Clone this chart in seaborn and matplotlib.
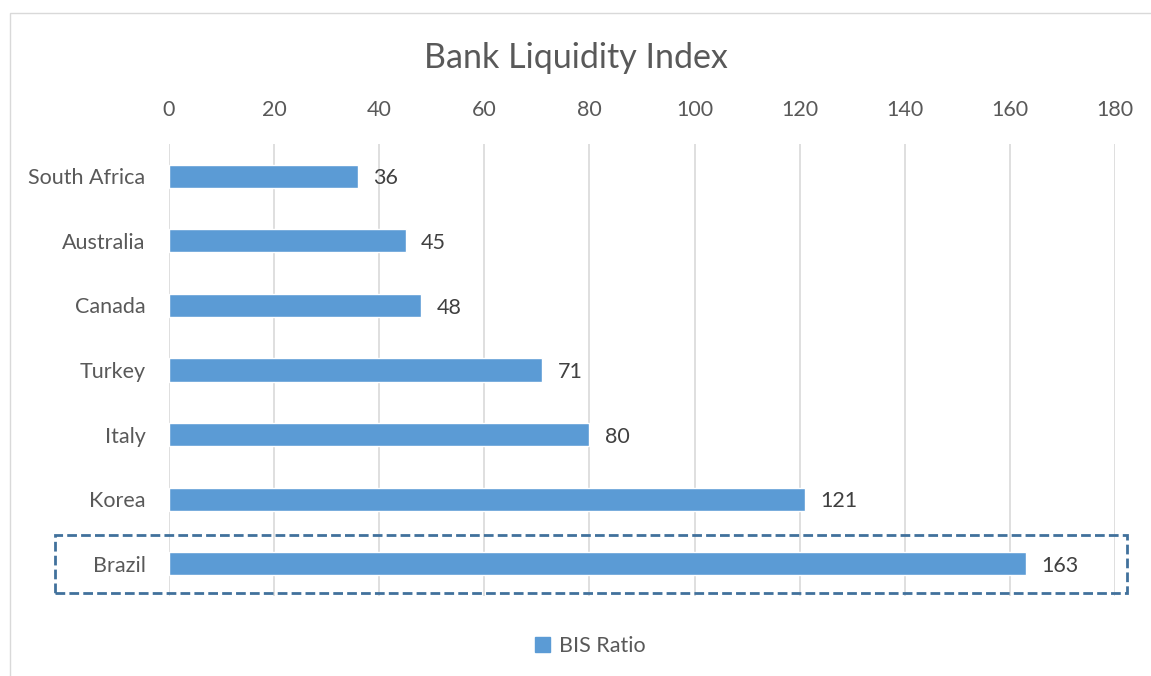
import matplotlib
matplotlib.use("Agg")
import matplotlib.pyplot as plt
import seaborn as sns
import pandas as pd
from matplotlib.patches import Rectangle, Patch

countries = ["South Africa", "Australia", "Canada", "Turkey", "Italy", "Korea", "Brazil"]
values = [36, 45, 48, 71, 80, 121, 163]
series_name = "BIS Ratio"
title = "Bank Liquidity Index"
xticks = [0, 20, 40, 60, 80, 100, 120, 140, 160, 180]

sns.set_theme(style="white")
plt.rcParams['font.family'] = ['Lato', 'DejaVu Sans']

df = pd.DataFrame({"country": countries, "value": values})
bar_color = "#5B9BD5"
txt_col = "#595959"
fs = 15.5

fig = plt.figure(figsize=(11.51, 6.76), dpi=100)
ax = fig.add_axes([169/1151, 1-596/676, (1115-169)/1151, (596-144)/676])
sns.barplot(data=df, y="country", x="value", color=bar_color, width=0.36,
            saturation=1, ax=ax, orient="h")
ax.set_xlim(0, 180)
ax.set_xticks(xticks)
ax.xaxis.tick_top()
ax.xaxis.set_label_position("top")
ax.set_xlabel("")
ax.set_ylabel("")
ax.tick_params(axis="x", length=0, pad=17, labelsize=fs, labelcolor=txt_col)
ax.tick_params(axis="y", length=0, pad=17, labelsize=fs, labelcolor=txt_col)
ax.grid(axis="x", color="#D9D9D9", linewidth=1.2)
ax.grid(axis="y", visible=False)
ax.set_axisbelow(True)
for s in ax.spines.values():
    s.set_visible(False)

for p, v in zip(ax.patches, values):
    y = p.get_y() + p.get_height() / 2
    ax.annotate(f"{v}", (p.get_width(), y), xytext=(11, -1.5), textcoords="offset points",
                va="center", ha="left", fontsize=fs, color="#404040")

fig.text(0.5, 1-58/676, title, ha="center", va="center", fontsize=24.5, color=txt_col)

# dashed highlight box around Brazil
fig.patches.append(Rectangle((55/1151, 1-593/676), (1127-55)/1151, (593-535)/676,
                             transform=fig.transFigure, fill=False, edgecolor="#41719C",
                             linewidth=2, linestyle=(0, (3.5, 1.5))))
# chart border (left/top visible)
fig.patches.append(Rectangle((10/1151, -0.05), 1.2, 1-13/676+0.05,
                             transform=fig.transFigure, fill=False, edgecolor="#D9D9D9",
                             linewidth=1))

leg = fig.legend(handles=[Patch(facecolor=bar_color, edgecolor=bar_color, label=series_name)],
                 loc="center", bbox_to_anchor=(590/1151, 1-646/676), frameon=False,
                 fontsize=fs, handlelength=0.7, handleheight=0.7, handletextpad=0.4)
for t in leg.get_texts():
    t.set_color(txt_col)

fig.savefig("out.png", dpi=100)
